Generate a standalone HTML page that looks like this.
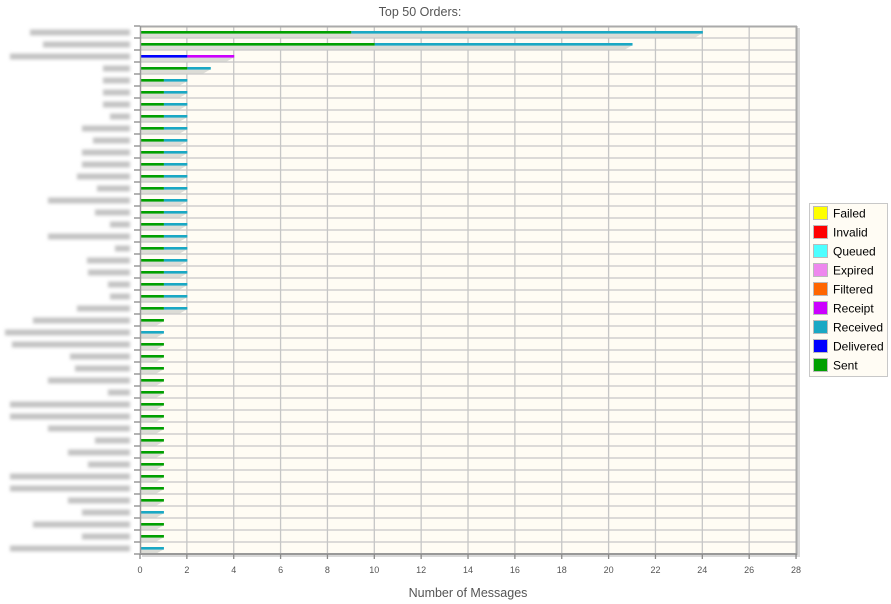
<!DOCTYPE html>
<html><head><meta charset="utf-8"><style>
html,body{margin:0;padding:0;background:#fff;}
svg{display:block;}
</style></head><body>
<svg width="891" height="604" viewBox="0 0 891 604" xmlns="http://www.w3.org/2000/svg" font-family="Liberation Sans, DejaVu Sans, sans-serif">
<defs>
<filter id="bl" x="-10%" y="-80%" width="120%" height="260%"><feGaussianBlur stdDeviation="1.6"/></filter>
</defs>
<!-- title -->
<text x="420" y="16" font-size="12.5" fill="#555" text-anchor="middle">Top 50 Orders:</text>

<!-- plot background -->
<rect x="140" y="26" width="657" height="528" fill="#fffcf4"/>
<!-- shadow right/bottom -->
<rect x="797" y="28" width="3" height="529" fill="#d8d8d8"/>
<rect x="142" y="554" width="658" height="3" fill="#d8d8d8"/>

<g id="grid" stroke="#c6c6c6" stroke-width="1.3">
</g>
<g id="bars"></g>
<g id="labels" filter="url(#bl)" fill="#c4c4c4"></g>

<!-- border -->
<line x1="140" y1="26.5" x2="797" y2="26.5" stroke="#aaa" stroke-width="2"/>
<line x1="796.5" y1="26" x2="796.5" y2="555" stroke="#aaa" stroke-width="2"/>
<line x1="140" y1="554" x2="797" y2="554" stroke="#999" stroke-width="2"/>
<line x1="140.5" y1="26" x2="140.5" y2="555" stroke="#999" stroke-width="1.5"/>

<g id="ticks" stroke="#8a8a8a" stroke-width="1.3"></g>
<g id="tlabels" font-size="9" fill="#555" text-anchor="middle"></g>

<text x="468" y="597" font-size="12.5" fill="#555" text-anchor="middle">Number of Messages</text>

<!-- legend -->
<rect x="809.5" y="203.5" width="78" height="173" fill="#fffcf4" stroke="#c8c8c8" stroke-width="1"/>
<g font-size="12" fill="#000">
<rect x="813.5" y="206.5" width="14" height="13" fill="#ffff00" stroke="#bbb"/><text x="833" y="217.5">Failed</text>
<rect x="813.5" y="225.5" width="14" height="13" fill="#ff0000" stroke="#bbb"/><text x="833" y="236.5">Invalid</text>
<rect x="813.5" y="244.5" width="14" height="13" fill="#4dffff" stroke="#bbb"/><text x="833" y="255.5">Queued</text>
<rect x="813.5" y="263.5" width="14" height="13" fill="#ee88ee" stroke="#bbb"/><text x="833" y="274.5">Expired</text>
<rect x="813.5" y="282.5" width="14" height="13" fill="#ff6600" stroke="#bbb"/><text x="833" y="293.5">Filtered</text>
<rect x="813.5" y="301.5" width="14" height="13" fill="#cc00ff" stroke="#bbb"/><text x="833" y="312.5">Receipt</text>
<rect x="813.5" y="320.5" width="14" height="13" fill="#1aa8c4" stroke="#bbb"/><text x="833" y="331.5">Received</text>
<rect x="813.5" y="339.5" width="14" height="13" fill="#0000ff" stroke="#bbb"/><text x="833" y="350.5">Delivered</text>
<rect x="813.5" y="358.5" width="14" height="13" fill="#00a000" stroke="#bbb"/><text x="833" y="369.5">Sent</text>
</g>

<script>
(function(){
var NS="http://www.w3.org/2000/svg";
function el(tag,attrs,parent,txt){var e=document.createElementNS(NS,tag);for(var k in attrs)e.setAttribute(k,attrs[k]);if(txt!==undefined)e.textContent=txt;parent.appendChild(e);return e;}
var X=function(v){return 140+v*23.43;};
var grid=document.getElementById('grid'),bars=document.getElementById('bars'),labels=document.getElementById('labels'),ticks=document.getElementById('ticks'),tl=document.getElementById('tlabels');
for(var k=1;k<44;k++){var y=26+12*k;el('line',{x1:140,y1:y,x2:797,y2:y},grid);}
for(var v=2;v<28;v+=2){var x=X(v);el('line',{x1:x,y1:26,x2:x,y2:554},grid);}
for(var k=0;k<=44;k++){var y=26+12*k;el('line',{x1:134,y1:y,x2:140,y2:y},ticks);}
for(var v=0;v<=28;v+=2){var x=X(v);el('line',{x1:x,y1:554,x2:x,y2:559},ticks);el('text',{x:x,y:573},tl,String(v));}
var G='#00a000',T='#1aa8c4',B='#0000ff',P='#cc00ff';
var rows=[];
rows.push([[G,9],[T,15]]);
rows.push([[G,10],[T,11]]);
rows.push([[B,2],[P,2]]);
rows.push([[G,2],[T,1]]);
for(var i=4;i<=23;i++)rows.push([[G,1],[T,1]]);
rows.push([[G,1]]);
rows.push([[T,1]]);
for(var i=26;i<=39;i++)rows.push([[G,1]]);
rows.push([[T,1]]);
rows.push([[G,1]]);
rows.push([[G,1]]);
rows.push([[T,1]]);
rows.forEach(function(r,i){
  var top=26+12*i,tot=0;r.forEach(function(s){tot+=s[1];});
  var end=X(tot);
  el('polygon',{points:[141,top+7.5,end,top+7.5,end-7,top+11.5,141,top+11.5].join(' '),fill:'#dcdcd6'},bars);
  var acc=0;
  r.forEach(function(s){var x0=X(acc);acc+=s[1];el('rect',{x:x0+0.5,y:top+5,width:X(acc)-x0,height:2.6,fill:s[0]},bars);});
});
var lefts=[30,43,10,103,103,103,103,110,82,93,82,82,77,97,48,95,110,48,115,87,88,108,110,77,33,5,12,70,75,48,108,10,10,48,95,68,88,10,10,68,82,33,82,10];
lefts.forEach(function(l,i){var y=26+12*i+3.5;el('rect',{x:l,y:y,width:130-l,height:6},labels);});
})();
</script>
</svg>
</body></html>
